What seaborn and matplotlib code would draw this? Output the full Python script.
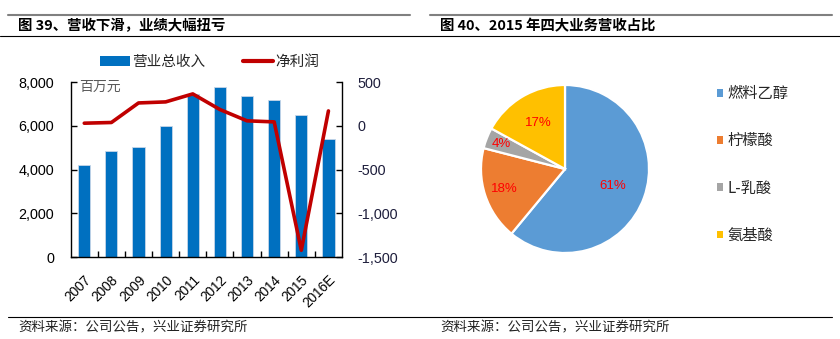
import numpy as np
import pandas as pd
import matplotlib
matplotlib.use("Agg")
import matplotlib.pyplot as plt
from matplotlib.lines import Line2D
from matplotlib.patches import Patch
import seaborn as sns

# ---- data ----
years = ["2007", "2008", "2009", "2010", "2011", "2012", "2013", "2014", "2015", "2016E"]
revenue = [4200, 4850, 5050, 6000, 7450, 7770, 7380, 7200, 6500, 5400]      # 营业总收入, 百万元
net_profit = [30, 38, 261, 273, 364, 186, 57, 45, -1420, 170]               # 净利润, 百万元
left_ticks = [0, 2000, 4000, 6000, 8000]
right_ticks = [-1500, -1000, -500, 0, 500]

segments = ["燃料乙醇", "柠檬酸", "L-乳酸", "氨基酸"]
shares = [61, 18, 4, 17]

# ---- style ----
sns.set_theme(style="white")
plt.rcParams["font.family"] = ["Liberation Sans", "Noto Sans CJK SC"]
CJK = ["Noto Sans CJK SC", "Liberation Sans"]

BAR_BLUE = "#0070C0"
LINE_RED = "#C00000"
PIE_COLORS = ["#5B9BD5", "#ED7D31", "#A5A5A5", "#FFC000"]

W, H = 840, 339
fig = plt.figure(figsize=(W / 100, H / 100), dpi=100)


def fx(px):
    return px / W


def fy(py):
    return 1 - py / H


# ---- left panel: revenue bars + net profit line ----
ax_l, ax_r, ax_t, ax_b = 70.7, 342.0, 82.0, 257.3
ax = fig.add_axes([fx(ax_l), fy(ax_b), (ax_r - ax_l) / W, (ax_b - ax_t) / H])
df = pd.DataFrame({"year": years, "revenue": revenue, "profit": net_profit})
sns.barplot(data=df, x="year", y="revenue", color=BAR_BLUE, saturation=1,
            width=0.45, edgecolor="#C6D6E8", linewidth=0.6, ax=ax)
ax.set_xlim(-0.5, len(years) - 0.5)
ax.set_ylim(0, 8000)
ax.set_yticks(left_ticks)
ax.set_yticklabels([f"{v:,}" for v in left_ticks])
ax.set_xlabel("")
ax.set_ylabel("")
ax.set_xticks(range(len(years)))
ax.set_xticklabels(years, rotation=45, ha="right", va="top", rotation_mode="anchor")
ax.set_xticks(np.arange(0.5, len(years) - 1, 1), minor=True)
ax.tick_params(axis="x", which="major", length=0, pad=11, labelsize=9.8, colors="black")
ax.tick_params(axis="x", which="minor", direction="in", length=4, width=1, color="black", bottom=True)
ax.tick_params(axis="y", direction="in", length=4, width=1, color="black", pad=12,
               labelsize=10.4, labelcolor="black", left=True)
for s in ["top", "right"]:
    ax.spines[s].set_visible(False)
for s in ["left", "bottom"]:
    ax.spines[s].set_color("black")
    ax.spines[s].set_linewidth(1)

ax2 = ax.twinx()
sns.lineplot(x=np.arange(len(years)), y=net_profit, color=LINE_RED, linewidth=2.6, ax=ax2)
ax2.set_ylim(-1500, 500)
ax2.set_yticks(right_ticks)
ax2.set_yticklabels([f"{v:,}" for v in right_ticks])
ax2.set_ylabel("")
ax2.tick_params(axis="y", direction="in", length=4, width=1, color="black", pad=11,
                labelsize=10.4, labelcolor="#1E1E3C", right=True)
for s in ["top", "left", "bottom"]:
    ax2.spines[s].set_visible(False)
ax2.spines["right"].set_color("black")
ax2.spines["right"].set_linewidth(1)
ax2.grid(False)
ax.grid(False)

ax.text(0.031, 0.971, "百万元", transform=ax.transAxes, ha="left", va="center",
        fontsize=10, color="#595959", family=CJK)

handles = [Patch(facecolor=BAR_BLUE, edgecolor="none"),
           Line2D([], [], color=LINE_RED, linewidth=3)]
ax2.legend(handles, ["营业总收入", "净利润"], ncol=2, loc="center",
           bbox_to_anchor=(0.513, 1.114), frameon=False, handlelength=2.0,
           handleheight=0.6, handletextpad=0.2, columnspacing=2.6,
           prop={"family": CJK, "size": 10.5})

# ---- right panel: 2015 revenue mix pie ----
cx, cy, r = 565, 169, 84
pax = fig.add_axes([fx(cx - r), fy(cy + r), 2 * r / W, 2 * r / H])
wedges, _, autotexts = pax.pie(
    shares, colors=PIE_COLORS, startangle=90, counterclock=False,
    autopct=lambda p: f"{p:.0f}%", pctdistance=1.0,
    wedgeprops=dict(edgecolor="white", linewidth=1.6),
    textprops=dict(color="#FF0000", fontsize=9.5),
)
for t, d in zip(autotexts, [0.61, 0.76, 0.81, 0.63]):
    x, y = t.get_position()
    t.set_position((x * d, y * d))
pax.set_xlim(-1, 1)
pax.set_ylim(-1, 1)
pax.set_aspect("equal")
pax.axis("off")

fig.legend([Patch(facecolor=c, edgecolor="none") for c in PIE_COLORS], segments,
           loc="center left", bbox_to_anchor=(fx(703), fy(164.5)), frameon=False,
           handlelength=0.4, handleheight=0.4, handletextpad=0.3, labelspacing=1.98,
           prop={"family": CJK, "size": 11})

# ---- headers and footers ----
for x0, x1 in [(8, 410), (430, 832)]:
    fig.add_artist(Line2D([fx(x0), fx(x1)], [fy(15), fy(15)], color="#808080", linewidth=1.5))
fig.add_artist(Line2D([0, 1], [fy(36), fy(36)], color="black", linewidth=0.8))
fig.add_artist(Line2D([fx(8), fx(832)], [fy(317), fy(317)], color="black", linewidth=0.8))

fig.text(fx(18), fy(26.5), "图 39、营收下滑，业绩大幅扭亏", fontsize=10.4, fontweight="bold",
         family=CJK, va="center", ha="left", color="black")
fig.text(fx(440), fy(26.5), "图 40、2015 年四大业务营收占比", fontsize=10.4, fontweight="bold",
         family=CJK, va="center", ha="left", color="black")
for x0 in (18, 440):
    fig.text(fx(x0), fy(327), "资料来源：公司公告，兴业证券研究所", fontsize=9.7,
             family=CJK, va="center", ha="left", color="#222222")

fig.savefig("out.png", dpi=100)
